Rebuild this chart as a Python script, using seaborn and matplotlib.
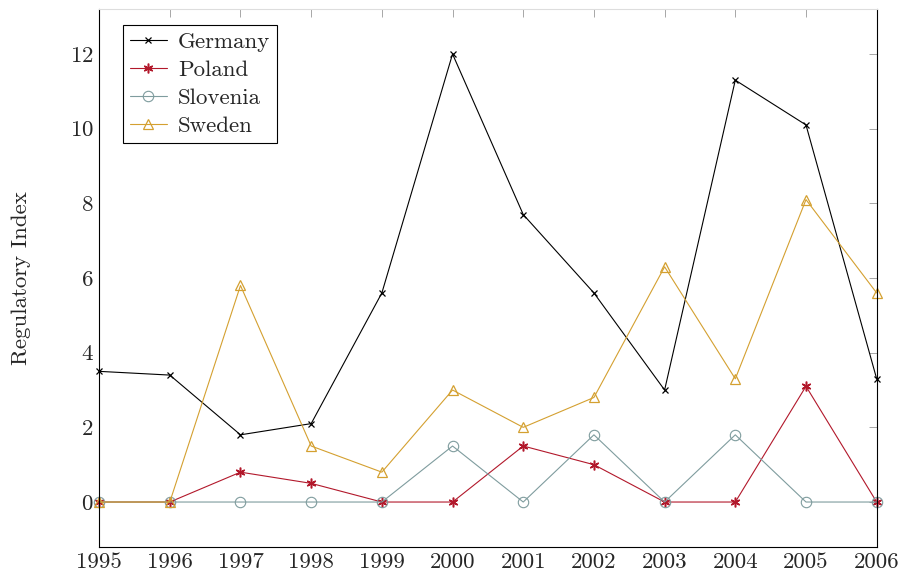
import numpy as np
import pandas as pd
import matplotlib
matplotlib.use("Agg")
import matplotlib.pyplot as plt
import seaborn as sns

years = [1995, 1996, 1997, 1998, 1999, 2000, 2001, 2002, 2003, 2004, 2005, 2006]
germany = [3.5, 3.4, 1.8, 2.1, 5.6, 12.0, 7.7, 5.6, 3.0, 11.3, 10.1, 3.3]
poland = [0, 0, 0.8, 0.5, 0, 0, 1.5, 1.0, 0, 0, 3.1, 0]
slovenia = [0, 0, 0, 0, 0, 1.5, 0, 1.8, 0, 1.8, 0, 0]
sweden = [0, 0, 5.8, 1.5, 0.8, 3.0, 2.0, 2.8, 6.3, 3.3, 8.1, 5.6]
countries = ["Germany", "Poland", "Slovenia", "Sweden"]

colors = {"Germany": "black", "Poland": "#b2182b", "Slovenia": "#7f9c9e", "Sweden": "#d4a030"}
markers = {"Germany": "x", "Poland": (6, 2, 0), "Slovenia": "o", "Sweden": "^"}
msize = {"Germany": 5, "Poland": 7, "Slovenia": 7.5, "Sweden": 6.5}
medge = {"Germany": 0.9, "Poland": 1.1, "Slovenia": 0.8, "Sweden": 0.9}

df = pd.DataFrame({"year": years * 4,
                   "value": germany + poland + slovenia + sweden,
                   "country": sum([[c] * len(years) for c in countries], [])})

sns.set_style("white")
plt.rcParams["font.family"] = ["cmr10", "DejaVu Serif"]
plt.rcParams["mathtext.fontset"] = "cm"
plt.rcParams["axes.formatter.use_mathtext"] = True

fig = plt.figure(figsize=(9.01, 5.75), dpi=100)
ax = fig.add_axes([0.110, 0.049, 0.863, 0.935])

for c in countries:
    sub = df[df.country == c]
    face = "none" if c in ("Slovenia", "Sweden") else colors[c]
    sns.lineplot(data=sub, x="year", y="value", ax=ax, color=colors[c], lw=0.8,
                 marker=markers[c], markersize=msize[c], markerfacecolor=face,
                 markeredgecolor=colors[c], markeredgewidth=medge[c], label=c,
                 clip_on=False)

ax.set_xlim(1995, 2006)
ax.set_ylim(-1.2, 13.2)
ax.set_xticks(years)
ax.set_xticklabels([str(y) for y in years])
ax.set_yticks([0, 2, 4, 6, 8, 10, 12])
ax.set_xlabel("")
ax.set_ylabel("Regulatory Index", fontsize=16.5, labelpad=28)
ax.tick_params(axis="both", direction="in", length=6, width=0.6, color="#999999",
               labelsize=16.5, top=True, right=True, pad=4)

for s in ["left", "bottom", "right"]:
    ax.spines[s].set_color("black")
    ax.spines[s].set_linewidth(0.8)
ax.spines["top"].set_color("#dddddd")
ax.spines["top"].set_linewidth(0.8)

leg = ax.legend(loc="upper left", bbox_to_anchor=(0.031, 0.970), fontsize=16.5,
                frameon=True, fancybox=False, edgecolor="black", framealpha=1,
                handlelength=1.6, handletextpad=0.5, labelspacing=0.34,
                borderpad=0.3, borderaxespad=0)
leg.get_frame().set_linewidth(0.8)

fig.savefig("out.png", dpi=100)
